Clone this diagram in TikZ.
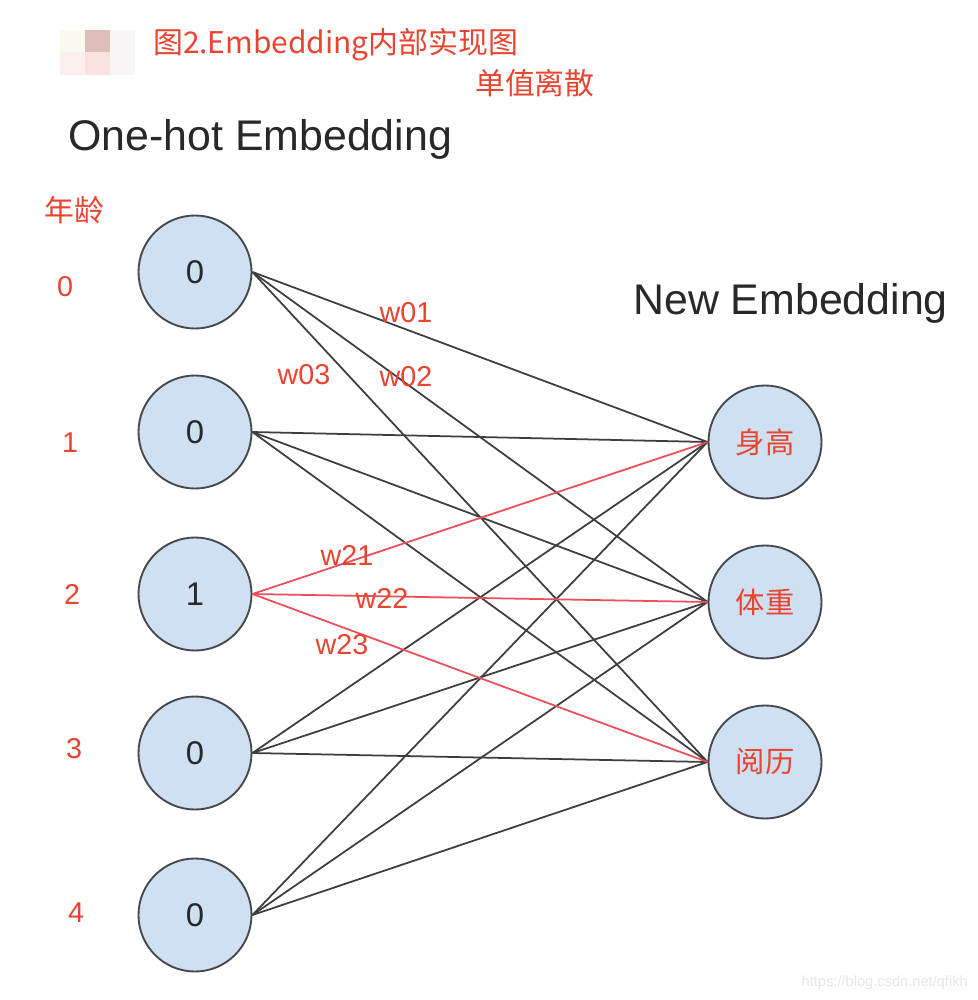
\documentclass[tikz,border=0pt]{standalone}
\usepackage{fontspec}
\setmainfont{Liberation Sans}
\newfontfamily\cjk{Noto Sans CJK SC}
\definecolor{lbl}{RGB}{232,68,48}
\definecolor{redline}{RGB}{236,78,90}
\definecolor{nodefill}{RGB}{207,224,243}
\definecolor{nodedraw}{RGB}{70,72,76}
\definecolor{edgec}{RGB}{62,62,64}
\definecolor{headc}{RGB}{40,40,42}
\begin{document}
\begin{tikzpicture}[x=0.03cm,y=-0.03cm,
  neuron/.style={circle,draw=nodedraw,fill=nodefill,line width=1.6pt,minimum size=3.39cm,inner sep=0pt,font=\fontsize{28}{30}\selectfont,text=headc},
  cjkneuron/.style={neuron,font=\cjk\fontsize{25}{28}\selectfont,text=lbl},
  edge/.style={draw=edgec,line width=1.5pt},
  redge/.style={draw=redline,line width=1.5pt},
  redlbl/.style={text=lbl,font=\fontsize{24.5}{28}\selectfont,inner sep=0pt},
  cjklbl/.style={text=lbl,font=\cjk\fontsize{25.5}{28}\selectfont,inner sep=0pt},
  head/.style={text=headc,font=\fontsize{36.6}{40}\selectfont,inner sep=0pt}]
\useasboundingbox[fill=white] (0,0) rectangle (978,1000);
% blurred avatar blob
\fill[fill={rgb,255:red,250;green,250;blue,238}] (60,30) rectangle (85,52);
\fill[fill={rgb,255:red,222;green,190;blue,186}] (85,30) rectangle (110,52);
\fill[fill={rgb,255:red,252;green,240;blue,238}] (60,52) rectangle (85,75);
\fill[fill={rgb,255:red,250;green,226;blue,222}] (85,52) rectangle (110,75);
\fill[fill={rgb,255:red,248;green,246;blue,246}] (110,30) rectangle (135,75);
% title
\node[cjklbl,anchor=west] (title) at (153,45) {图2.Embedding内部实现图};
\node[cjklbl,anchor=west] (sub) at (475,83) {单值离散};
\node[head,anchor=base west] (onehot) at (68,150) {One-hot Embedding};
\node[head,anchor=base west] (newemb) at (633,314) {New Embedding};
% left nodes
\node[neuron] (l0) at (195,272) {0};
\node[neuron] (l1) at (195,432) {0};
\node[neuron] (l2) at (195,594) {1};
\node[neuron] (l3) at (195,753) {0};
\node[neuron] (l4) at (195,915) {0};
% right nodes
\node[cjkneuron] (r0) at (765,442) {身高};
\node[cjkneuron] (r1) at (765,602) {体重};
\node[cjkneuron] (r2) at (765,762) {阅历};
% edges
\foreach \i in {0,1,3,4}{
  \foreach \j in {0,1,2}{
    \draw[edge] (l\i.east) -- (r\j.west);
  }
}
\foreach \j in {0,1,2}{
  \draw[redge] (l2.east) -- (r\j.west);
}
% side labels
\node[cjklbl] (age) at (74,210) {年龄};
\node[redlbl] (n0) at (65,287) {0};
\node[redlbl] (n1) at (70,443) {1};
\node[redlbl] (n2) at (72,594) {2};
\node[redlbl] (n3) at (74,749) {3};
\node[redlbl] (n4) at (76,913) {4};
% weight labels
\node[redlbl] (w01) at (406,313) {w01};
\node[redlbl] (w03) at (304,375) {w03};
\node[redlbl] (w02) at (406,377) {w02};
\node[redlbl] (w21) at (347,555) {w21};
\node[redlbl] (w22) at (382,598) {w22};
\node[redlbl] (w23) at (342,645) {w23};
% watermark
\node[anchor=east,inner sep=0pt,text={rgb,255:red,230;green,230;blue,230},font=\fontsize{12.5}{14}\selectfont] (wm) at (968,983) {https://blog.csdn.net/qfikh};
\end{tikzpicture}
\end{document}
